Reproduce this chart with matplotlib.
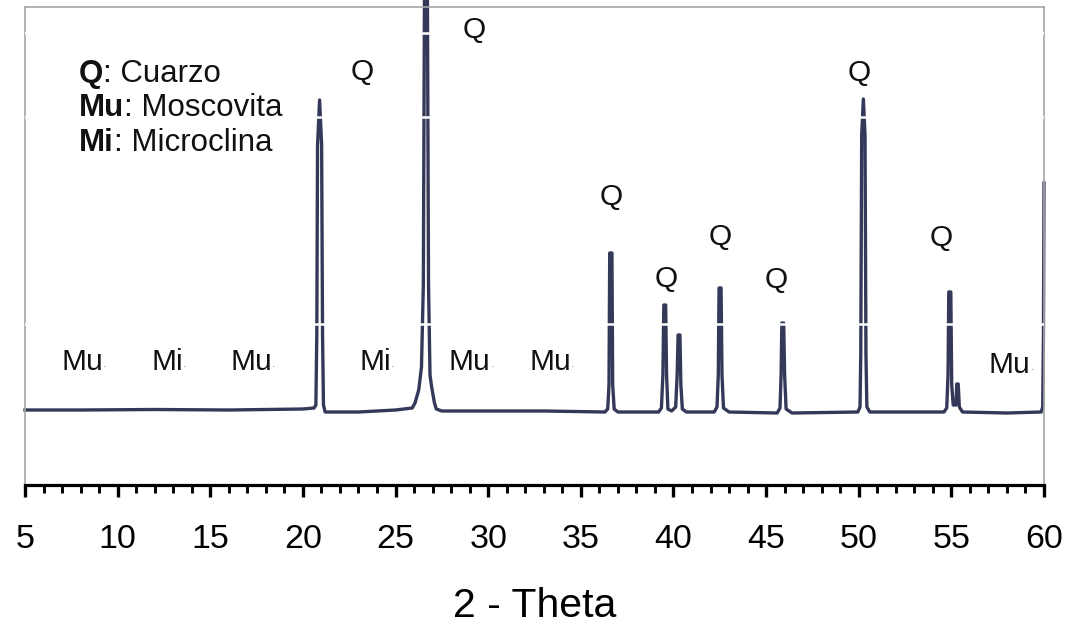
"""
XRD pattern (2-Theta) with quartz / muscovite / microcline peak labels
"""
import matplotlib
matplotlib.use("Agg")
import matplotlib.pyplot as plt
from matplotlib.ticker import MultipleLocator

plt.rcParams["font.family"] = ["Liberation Sans", "DejaVu Sans"]

# trace: 2-theta (deg) and intensity (arbitrary units)
TWO_THETA = [
    5.0, 8.0, 12.0, 16.0, 20.0, 20.6,
    20.7, 20.75, 20.79, 20.9, 21.01, 21.06, 21.11, 21.2,
    23.0, 25.0, 25.9,
    26.05, 26.25, 26.4, 26.5, 26.56, 26.72, 26.78, 26.86, 26.95, 27.1, 27.2,
    27.5, 30.0, 33.0, 36.3,
    36.45, 36.52, 36.56, 36.68, 36.72, 36.8, 37.0,
    39.2, 39.35, 39.43, 39.48, 39.58, 39.63, 39.7, 39.9,
    40.12, 40.2, 40.25, 40.35, 40.4, 40.48, 40.7,
    42.2, 42.35, 42.42, 42.46, 42.57, 42.62, 42.7, 43.0,
    45.6, 45.75, 45.81, 45.85, 45.95, 46.0, 46.08, 46.4,
    49.95, 50.07, 50.11, 50.16, 50.25, 50.34, 50.39, 50.44, 50.6,
    54.6, 54.75, 54.82, 54.86, 54.97, 55.02, 55.1,
    55.25, 55.29, 55.37, 55.43, 55.6,
    58.0, 59.85, 59.93, 59.97, 60.0,
]
INTENSITY = [
    75, 75, 75.5, 75, 76, 77,
    80, 150, 340, 385, 340, 150, 80, 73,
    73, 75, 77,
    82, 95, 118, 200, 488, 488, 200, 110, 98, 82, 76,
    74, 74, 74, 73,
    76, 100, 232, 232, 100, 76, 73,
    73, 77, 110, 180, 180, 110, 76, 74,
    78, 110, 150, 150, 100, 76, 73,
    73, 78, 110, 197, 197, 110, 77, 73,
    72, 77, 110, 162, 162, 110, 76, 72,
    73, 78, 130, 350, 386, 350, 130, 78, 73,
    73, 77, 110, 193, 193, 100, 80,
    80, 101, 101, 78, 73,
    72, 73, 78, 150, 302,
]

Q_LABEL_X = [29.26, 23.2, 36.63, 39.6, 42.54, 45.52, 50.04, 54.46]
Q_LABEL_Y = [455, 413, 288, 206, 248, 205, 412, 247]

MINOR_LABELS = ["Mu", "Mi", "Mu", "Mi", "Mu", "Mu", "Mu"]
MINOR_LABEL_X = [8.1, 12.66, 17.2, 23.9, 29.0, 33.33, 58.14]
MINOR_LABEL_Y = [123, 123, 123, 123, 123, 123, 120]

LEGEND_KEYS = ["Q", "Mu", "Mi"]
LEGEND_NAMES = ["Cuarzo", "Moscovita", "Microclina"]

XTICKS = list(range(5, 61, 5))

LINE = "#353959"
FRAME = "#a6a6a6"

W, H = 1071, 629
fig = plt.figure(figsize=(W / 100, H / 100), dpi=100)
ax = fig.add_axes([25 / W, 1 - 485 / H, (1044 - 25) / W, (485 - 7) / H])
ax.set_xlim(5, 60)
ax.set_ylim(0, 478)

ax.plot(TWO_THETA, INTENSITY, color=LINE, lw=2.4, solid_joinstyle="round",
        clip_on=False, zorder=2)

# white scan streaks crossing the tall peaks
for lvl in (452, 368, 161):
    ax.axhline(lvl, color="white", lw=1.8, zorder=2.6)

for x, y in zip(Q_LABEL_X, Q_LABEL_Y):
    ax.text(x, y, "Q", fontsize=21.5, ha="center", va="center", color="#111111", zorder=3)

for lab, x, y in zip(MINOR_LABELS, MINOR_LABEL_X, MINOR_LABEL_Y):
    t = ax.text(x, y, lab, fontsize=21.5, ha="center", va="center", color="#111111", zorder=3)
    ax.annotate(".", xy=(1, 0.22), xycoords=t, fontsize=9, color="#888888",
                ha="left", va="bottom", zorder=3)

legend_base = [403, 368.5, 334]
for key, name, yb in zip(LEGEND_KEYS, LEGEND_NAMES, legend_base):
    t = ax.text(7.91, yb, key, fontsize=22.5, fontweight="bold", ha="left",
                va="baseline", color="#111111", zorder=3)
    ax.annotate(f": {name}", xy=(1, 0), xycoords=t, fontsize=22.5,
                ha="left", va="bottom", color="#111111", zorder=3)

for side in ("left", "top", "right"):
    ax.spines[side].set_color(FRAME)
    ax.spines[side].set_linewidth(1.2)
ax.spines["bottom"].set_color("black")
ax.spines["bottom"].set_linewidth(2.3)

ax.set_yticks([])
ax.set_xticks(XTICKS)
ax.xaxis.set_minor_locator(MultipleLocator(1))
ax.tick_params(axis="x", which="major", direction="out", length=8.6, width=2.4,
               pad=19.5, labelsize=24.5, color="black")
ax.tick_params(axis="x", which="minor", direction="out", length=5.8, width=2.1,
               color="black")
ax.set_xlabel("2 - Theta", fontsize=29.5, labelpad=23)

fig.savefig("out.png", dpi=100)
